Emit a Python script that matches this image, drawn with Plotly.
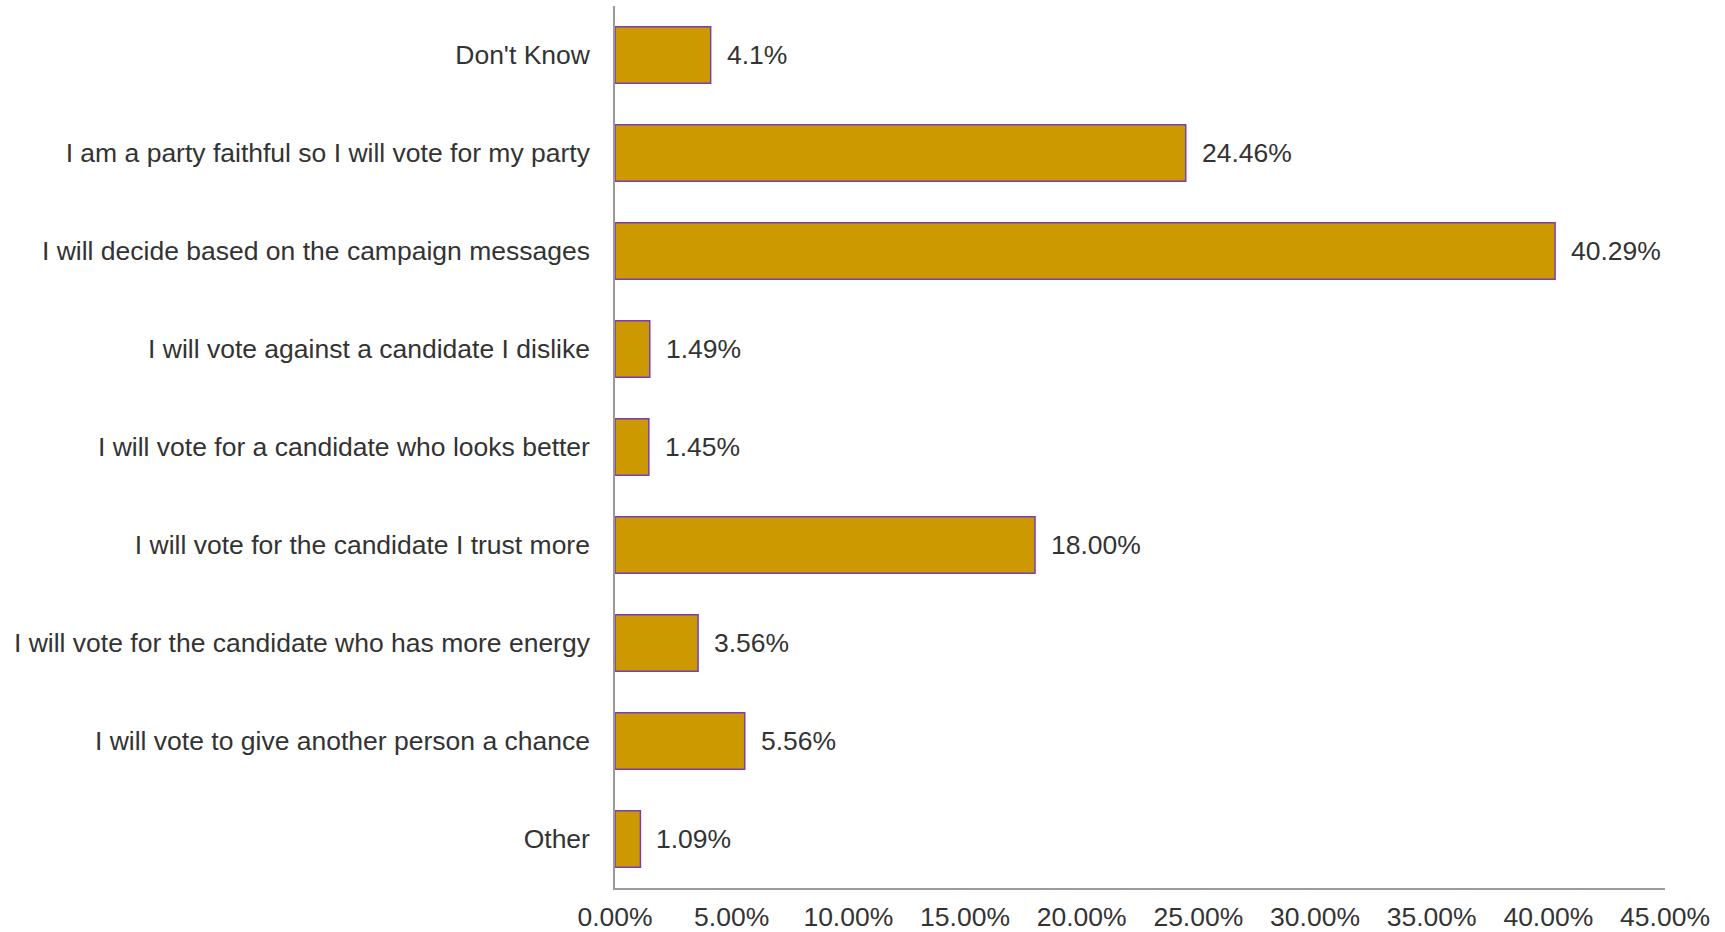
import plotly.graph_objects as go

categories = [
    "Don't Know",
    "I am a party faithful so I will vote for my party",
    "I will decide based on the campaign messages",
    "I will vote against a candidate I dislike",
    "I will vote for a candidate who looks better",
    "I will vote for the candidate I trust more",
    "I will vote for the candidate who has more energy",
    "I will vote to give another person a chance",
    "Other",
]
values = [4.1, 24.46, 40.29, 1.49, 1.45, 18.00, 3.56, 5.56, 1.09]
value_labels = ["4.1%", "24.46%", "40.29%", "1.49%", "1.45%", "18.00%", "3.56%", "5.56%", "1.09%"]
tick_vals = [0, 5, 10, 15, 20, 25, 30, 35, 40, 45]
tick_text = ["0.00%", "5.00%", "10.00%", "15.00%", "20.00%", "25.00%", "30.00%", "35.00%", "40.00%", "45.00%"]

FONT = "Liberation Sans, Arial, sans-serif"
TXT = "#333333"
FS = 26.5

fig = go.Figure()
fig.add_trace(go.Bar(
    x=values, y=categories, orientation="h",
    marker=dict(color="#CC9900", line=dict(color="#7A3DB8", width=1.5)),
    width=0.575,
    hoverinfo="x+y",
))

for v, c, t in zip(values, categories, value_labels):
    fig.add_annotation(x=v, y=c, text=t, showarrow=False, xanchor="left",
                       xshift=14, font=dict(family=FONT, size=FS, color=TXT))

fig.update_layout(
    width=1725, height=932,
    margin=dict(l=615, r=60, t=6, b=44, autoexpand=False),
    paper_bgcolor="white", plot_bgcolor="white",
    showlegend=False,
    font=dict(family=FONT, size=FS, color=TXT),
    xaxis=dict(range=[0, 45], tickvals=tick_vals, ticktext=tick_text,
               showgrid=False, zeroline=False, showline=True,
               linecolor="#9a9a9a", linewidth=1.5, ticks="",
               ticklabelstandoff=4, automargin=False,
               tickfont=dict(family=FONT, size=FS, color=TXT)),
    yaxis=dict(autorange="reversed", showgrid=False, zeroline=False,
               showline=True, linecolor="#9a9a9a", linewidth=1.5,
               ticks="", ticklabelstandoff=18, automargin=False,
               tickfont=dict(family=FONT, size=FS, color=TXT)),
)

fig.write_html("out.html", config={"displayModeBar": False},
               post_script="document.body.style.margin='0';document.body.style.overflow='hidden';")
